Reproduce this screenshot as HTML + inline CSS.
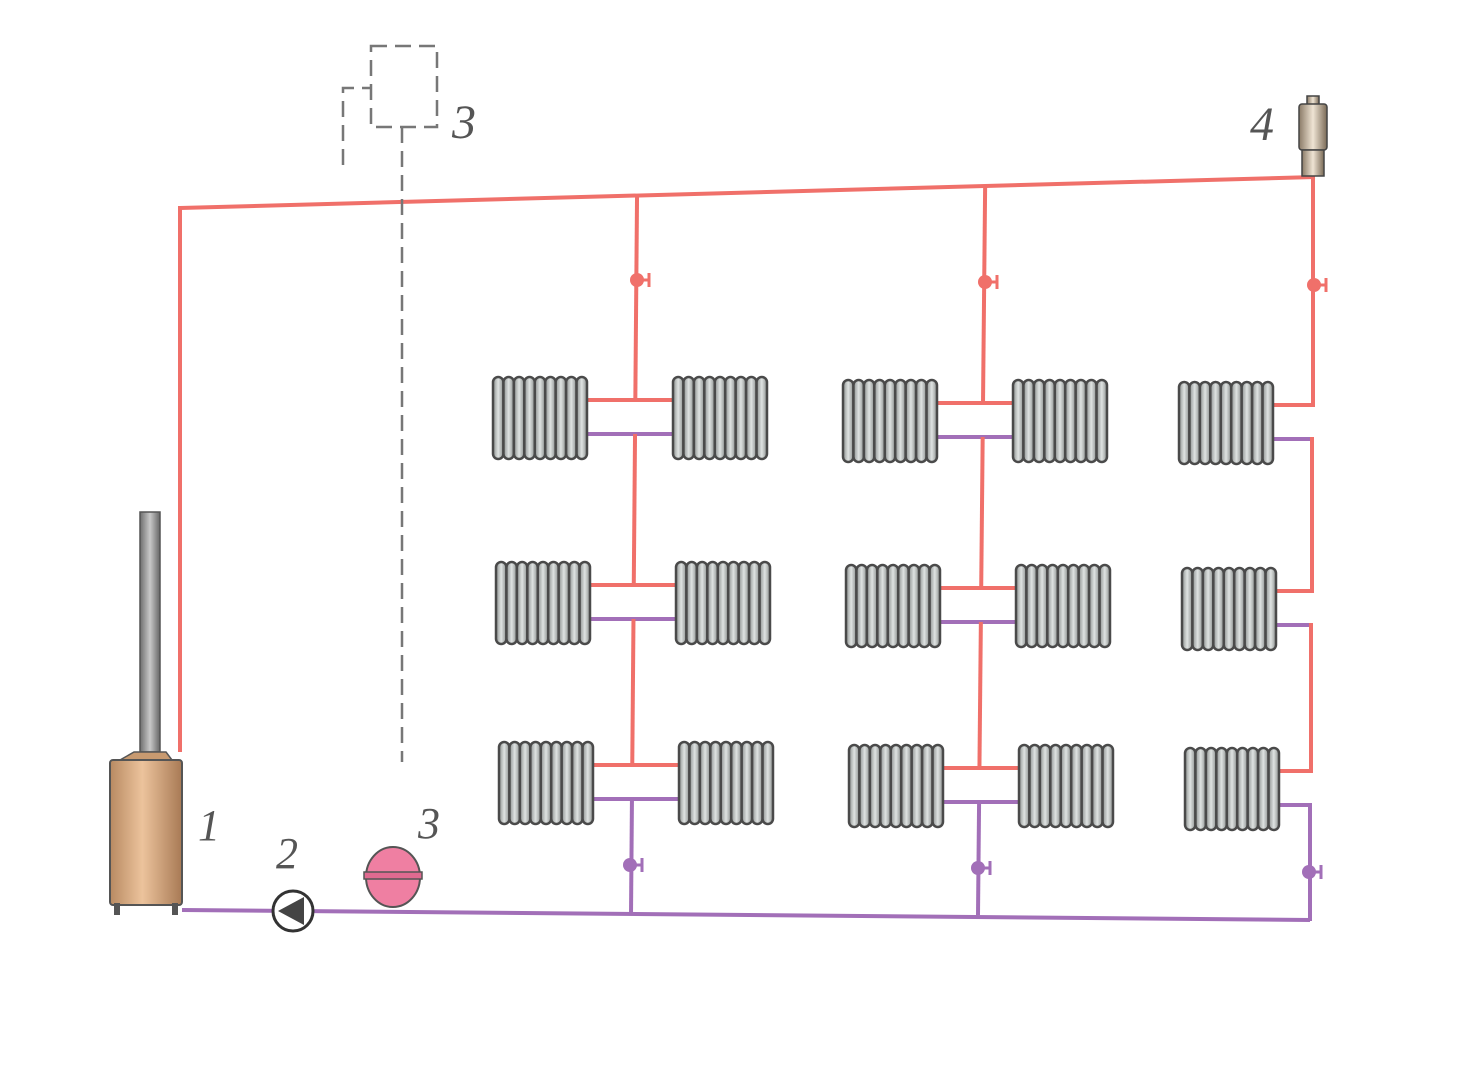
<!DOCTYPE html>
<html><head><meta charset="utf-8"><style>html,body{margin:0;padding:0;background:#fff}svg{display:block}</style></head>
<body>
<svg id="s" width="1464" height="1080" viewBox="0 0 1464 1080" xmlns="http://www.w3.org/2000/svg">
<defs>
<linearGradient id="fin" x1="0" x2="1" y1="0" y2="0"><stop offset="0" stop-color="#8c908f"/><stop offset="0.5" stop-color="#dfe3e2"/><stop offset="1" stop-color="#8c908f"/></linearGradient>
<linearGradient id="boil" x1="0" x2="1"><stop offset="0" stop-color="#b88a62"/><stop offset="0.45" stop-color="#ecc39c"/><stop offset="1" stop-color="#a87a55"/></linearGradient>
<linearGradient id="chim" x1="0" x2="1"><stop offset="0" stop-color="#6e6e6e"/><stop offset="0.5" stop-color="#c8c8c8"/><stop offset="1" stop-color="#666"/></linearGradient>
<linearGradient id="vent" x1="0" x2="1"><stop offset="0" stop-color="#8a7a66"/><stop offset="0.5" stop-color="#efe4d4"/><stop offset="1" stop-color="#7a6a56"/></linearGradient>
</defs>
<g id="pipes" fill="none" stroke-width="4"></g>
<g id="rads"></g>
<g fill="none" stroke="#777" stroke-width="2.5" stroke-dasharray="16,8">
<path d="M371 46 H437 V127 H371 Z"/>
<path d="M343 165 V88 H371"/>
<path d="M402 127 V762"/>
</g>
<text x="452" y="138" font-family="Liberation Serif,serif" font-style="italic" font-size="48" fill="#555">3</text>
<rect x="140" y="512" width="20" height="240" fill="url(#chim)" stroke="#555" stroke-width="1.5"/>
<path d="M134 752 L166 752 L172 760 L120 760 Z" fill="#c89a70" stroke="#555" stroke-width="1.5"/>
<rect x="110" y="760" width="72" height="145" rx="3" fill="url(#boil)" stroke="#555" stroke-width="2"/>
<rect x="114" y="903" width="6" height="12" fill="#555"/><rect x="172" y="903" width="6" height="12" fill="#555"/>
<text x="198" y="840" font-family="Liberation Serif,serif" font-style="italic" font-size="44" fill="#555">1</text>
<text x="276" y="868" font-family="Liberation Serif,serif" font-style="italic" font-size="44" fill="#555">2</text>
<text x="418" y="838" font-family="Liberation Serif,serif" font-style="italic" font-size="44" fill="#555">3</text>
<text x="1250" y="140" font-family="Liberation Serif,serif" font-style="italic" font-size="48" fill="#555">4</text>
<g stroke="#444" stroke-width="1.5" fill="url(#vent)">
<rect x="1307" y="96" width="12" height="10"/>
<rect x="1299" y="104" width="28" height="46" rx="3"/>
<rect x="1302" y="150" width="22" height="26"/>
</g>
</svg>
<script>
const NS="http://www.w3.org/2000/svg";
const P=document.getElementById("pipes"),R=document.getElementById("rads");
const RED="#f0706a",PUR="#a26fb8";
function ln(x1,y1,x2,y2,c,w){const l=document.createElementNS(NS,"line");l.setAttribute("x1",x1);l.setAttribute("y1",y1);l.setAttribute("x2",x2);l.setAttribute("y2",y2);l.setAttribute("stroke",c);l.setAttribute("stroke-width",w||4);P.appendChild(l);}
function el(par,tag,a){const e=document.createElementNS(NS,tag);for(const k in a)e.setAttribute(k,a[k]);par.appendChild(e);return e;}
function rad(x,y){const n=9,w=94,h=82,fw=w/n;for(let i=0;i<n;i++){el(R,"rect",{x:x+i*fw,y:y,width:fw,height:h,rx:fw/2,fill:"url(#fin)",stroke:"#4a4a4a","stroke-width":2.5});}}
function topY(x){return 208-(x-180)*31/1135;}
ln(180,topY(180),1315,177,RED);
ln(180,206,180,752,RED);
ln(182,910,1310,920,PUR);
const cols=[{t:637,b:631,rows:[[493,673,377],[496,676,562],[499,679,742]]},{t:985,b:978,rows:[[843,1013,380],[846,1016,565],[849,1019,745]]}];
cols.forEach(c=>{
 const xr=(y)=>c.t+(c.b-c.t)*(y-200)/(915-200);
 let prev=topY(c.t);
 c.rows.forEach((r,i)=>{
  const hy=r[2]+23,ry=r[2]+57;
  ln(xr(prev),prev,xr(hy),hy,RED);
  ln(r[0]+90,hy,r[1]+4,hy,RED);
  ln(r[0]+90,ry,r[1]+4,ry,PUR);
  prev=ry;
 });
 const bx=xr(915);
 ln(xr(prev),prev-2,bx,915,PUR);
 c.rows.forEach(r=>{rad(r[0],r[2]);rad(r[1],r[2]);});
});
const c3=[[1179,382],[1182,568],[1185,748]];
let py=177;
c3.forEach((r,i)=>{const hy=r[1]+23,ry=r[1]+57,x=1313-i;
 ln(x,py-2,x,hy+2,RED);ln(r[0]+90,hy,x+2,hy,RED);ln(r[0]+90,ry,x,ry,PUR);py=ry;rad(r[0],r[1]);});
ln(1310,py-2,1310,921,PUR);
function valve(x,y,c){el(P,"circle",{cx:x,cy:y,r:7,fill:c,stroke:"none"});ln(x,y,x+12,y,c,3);ln(x+12,y-7,x+12,y+7,c,3);}
valve(637,280,RED);valve(985,282,RED);valve(1314,285,RED);
valve(630,865,PUR);valve(978,868,PUR);valve(1309,872,PUR);
const s=document.getElementById("s");
el(s,"circle",{cx:293,cy:911,r:20,fill:"#fff",stroke:"#333","stroke-width":3});
el(s,"path",{d:"M278 911 L304 897 L304 925 Z",fill:"#444"});
el(s,"ellipse",{cx:393,cy:877,rx:27,ry:30,fill:"#ef7fa2",stroke:"#555","stroke-width":2});
el(s,"rect",{x:364,y:872,width:58,height:7,fill:"#e06a90",stroke:"#555","stroke-width":1.5});
</script>
</body></html>
